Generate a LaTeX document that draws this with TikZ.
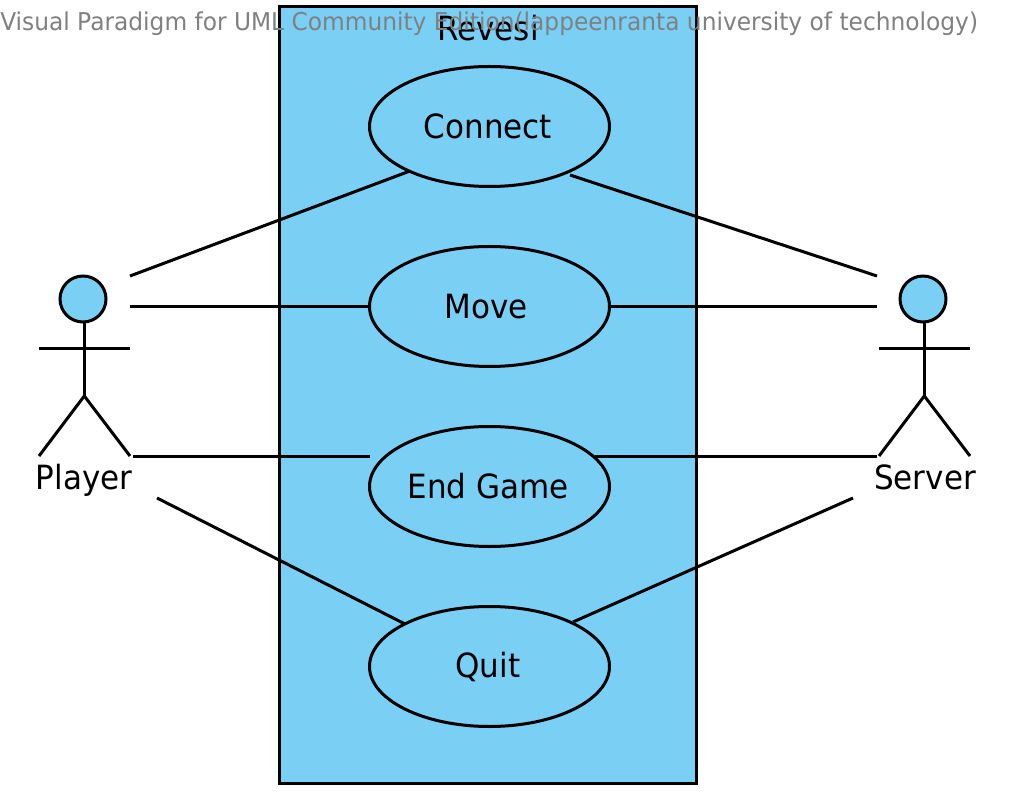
\documentclass[tikz,border=0pt]{standalone}
\usepackage{fontspec}
\setmainfont{DejaVu Sans}
\newfontfamily\narrowfont[FakeStretch=0.93]{DejaVu Sans}
\newfontfamily\markfont[FakeStretch=0.95]{DejaVu Sans}
\usetikzlibrary{shapes.geometric}
\definecolor{fillblue}{HTML}{7ACFF5}
\definecolor{wm}{HTML}{808080}
\tikzset{
 x=0.75pt,y=-0.75pt,
 usecase/.style={ellipse,draw=black,line width=2.25pt,fill=fillblue,minimum width=180pt,minimum height=90pt,inner sep=0pt,font=\narrowfont\fontsize{25pt}{28pt}\selectfont},
 lbl/.style={inner sep=0pt,font=\narrowfont\fontsize{25pt}{28pt}\selectfont},
 stroke/.style={draw=black,line width=2.25pt},
 head/.style={circle,draw=black,line width=2.25pt,fill=fillblue,minimum size=34.5pt,inner sep=0pt}
}
\begin{document}
\begin{tikzpicture}
\useasboundingbox (0,0) rectangle (1017,798);
\coordinate (tl) at (279.5,6.5);\coordinate (br) at (696.5,783.5);
\draw[stroke,fill=fillblue] (tl) rectangle (br);
\node[lbl,anchor=base] (title) at (488,40.5) {Revesi};
\node[anchor=base west,inner sep=0pt,text=wm,font=\markfont\fontsize{18.4pt}{20pt}\selectfont] (mark) at (0,30.5) {Visual Paradigm for UML Community Edition(lappeenranta university of technology)};
\coordinate (p1) at (130,276);\coordinate (p2) at (130,306.3);\coordinate (p3) at (133,456.3);\coordinate (p4) at (157,498);
\coordinate (s1) at (877,276);\coordinate (s2) at (877,306.3);\coordinate (s3) at (877,456.3);\coordinate (s4) at (853,498);
\node[usecase] (connect) at (489.5,126.5) {Connect\kern2.25pt};
\node[usecase] (move) at (489.5,306.5) {Move\kern5.25pt};
\node[usecase] (endgame) at (489.5,486.5) {End Game\kern2.25pt};
\node[usecase] (quit) at (489.5,666.5) {Quit\kern2.25pt};
\coordinate (c1) at (410,171);\coordinate (c2) at (570,175);
\coordinate (m1) at (370,306.3);\coordinate (m2) at (609,306.3);
\coordinate (e1) at (370,456.3);\coordinate (e2) at (595,456.3);
\coordinate (q1) at (405,624);\coordinate (q2) at (573,622);
\draw[stroke] (p1) -- (c1);
\draw[stroke] (c2) -- (s1);
\draw[stroke] (p2) -- (m1);
\draw[stroke] (m2) -- (s2);
\draw[stroke] (p3) -- (e1);
\draw[stroke] (e2) -- (s3);
\draw[stroke] (p4) -- (q1);
\draw[stroke] (q2) -- (s4);
% Player
\node[head] (phead) at (83,299) {};
\coordinate (pneck) at (84.3,322);\coordinate (pcrotch) at (84.3,396);
\coordinate (pal) at (39,348.3);\coordinate (par) at (130,348.3);
\coordinate (pll) at (39,456);\coordinate (plr) at (130,456);
\draw[stroke] (pneck) -- (pcrotch);
\draw[stroke] (pal) -- (par);
\draw[stroke] (pll) -- (pcrotch) -- (plr);
\node[lbl,anchor=base] (player) at (84,489) {Player};
% Server
\node[head] (shead) at (923,299) {};
\coordinate (sneck) at (924.3,322);\coordinate (scrotch) at (924.3,396);
\coordinate (sal) at (879,348.3);\coordinate (sar) at (970,348.3);
\coordinate (sll) at (879,456);\coordinate (slr) at (970,456);
\draw[stroke] (sneck) -- (scrotch);
\draw[stroke] (sal) -- (sar);
\draw[stroke] (sll) -- (scrotch) -- (slr);
\node[lbl,anchor=base] (server) at (925,489) {Server};
\end{tikzpicture}
\end{document}
